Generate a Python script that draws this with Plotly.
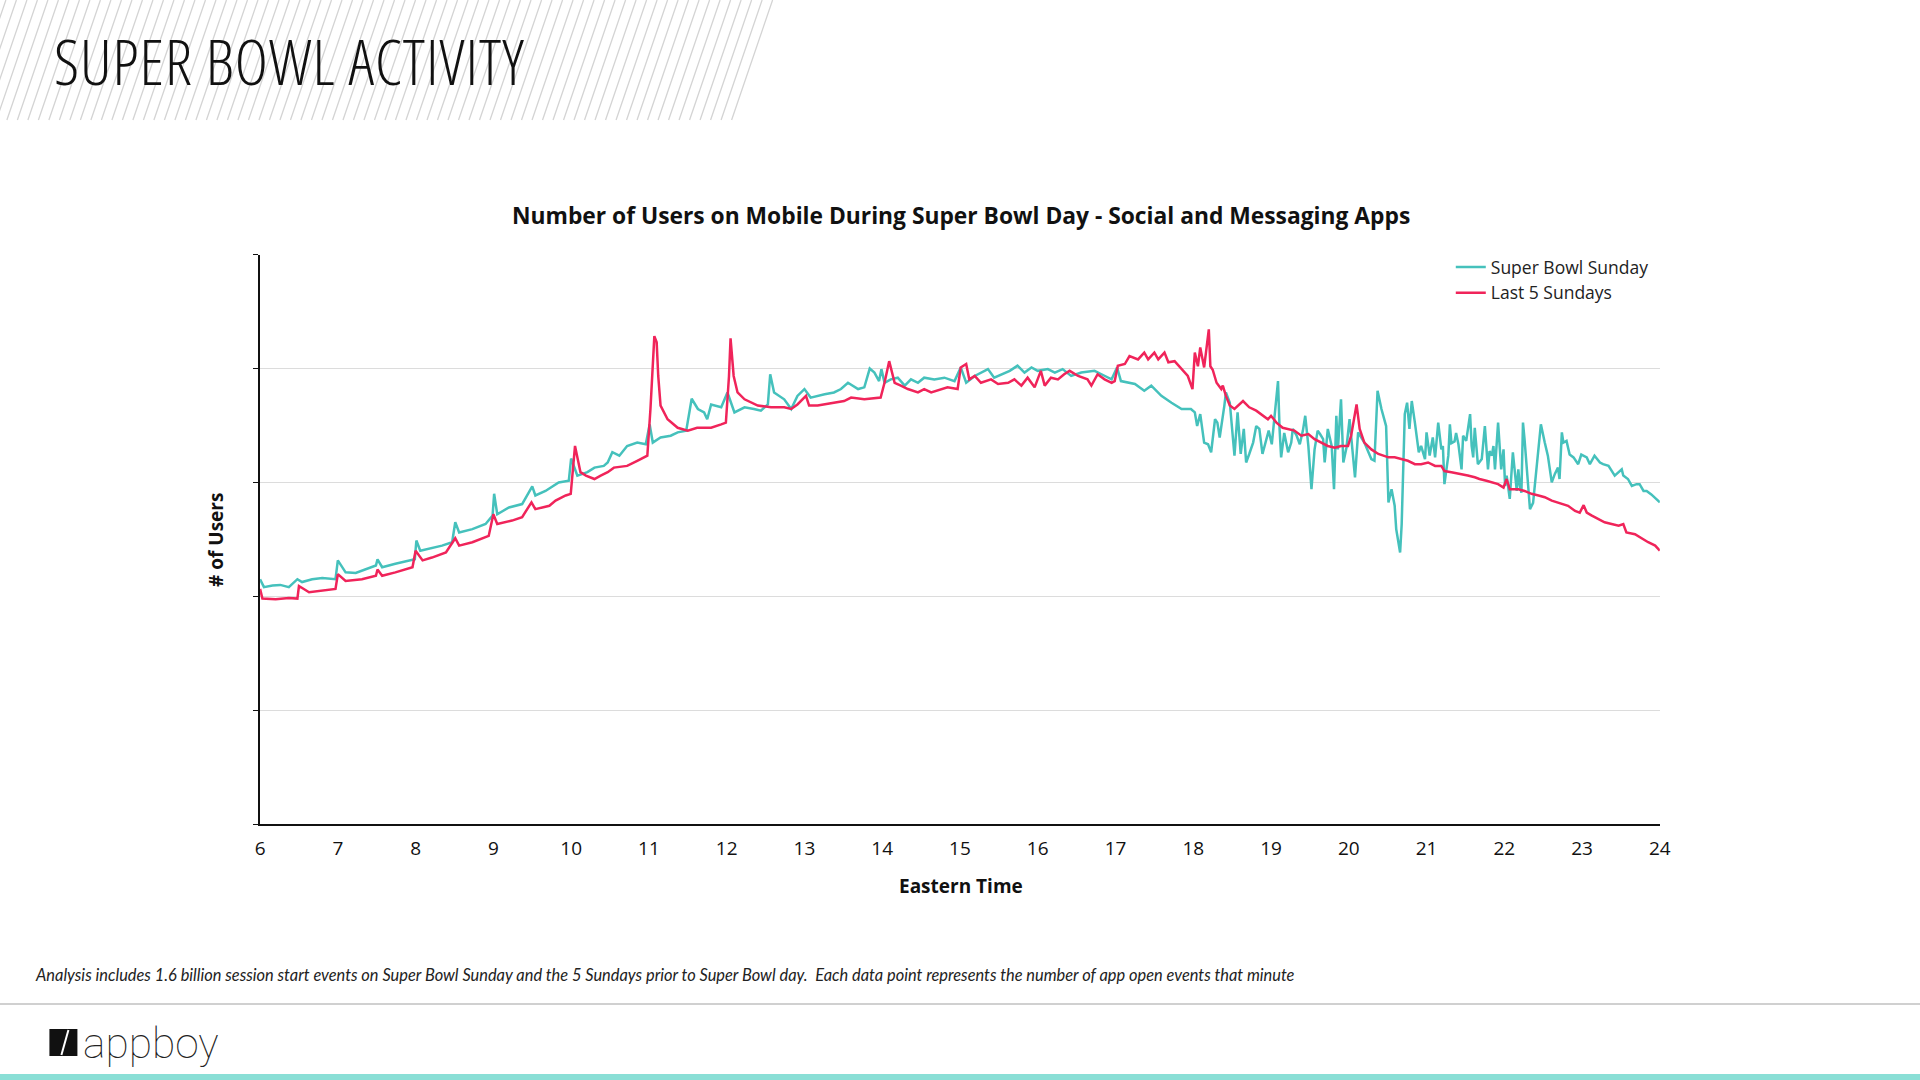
import plotly.graph_objects as go

# ---------------- data (hour of day, Eastern Time) ----------------
sb_hours = [6.00, 6.05, 6.16, 6.26, 6.37, 6.48, 6.54, 6.67, 6.80, 6.97, 7.00, 7.10, 7.23, 7.36, 7.49, 7.51, 7.57, 7.74, 7.91, 7.99,
            8.01, 8.06, 8.34, 8.47, 8.51, 8.56, 8.73, 8.90, 8.99, 9.01, 9.05, 9.20, 9.37, 9.50, 9.54, 9.67, 9.84, 9.97,
            10.00, 10.08, 10.21, 10.30, 10.42, 10.47, 10.53, 10.62, 10.72, 10.85, 10.96, 11.01, 11.05, 11.15, 11.28, 11.37,
            11.48, 11.55, 11.63, 11.71, 11.75, 11.80, 11.93, 12.01, 12.10, 12.23, 12.35, 12.44, 12.53, 12.56, 12.61, 12.74,
            12.83, 12.91, 13.00, 13.08, 13.26, 13.38, 13.47, 13.56, 13.69, 13.77, 13.84, 13.90, 13.96, 13.99, 14.03, 14.11,
            14.20, 14.29, 14.37, 14.46, 14.54, 14.67, 14.80, 14.93, 15.01, 15.08, 15.19, 15.27, 15.36, 15.44, 15.53, 15.64,
            15.74, 15.83, 15.92, 16.00, 16.13, 16.22, 16.32, 16.43, 16.56, 16.73, 16.82, 16.95, 17.02, 17.07, 17.25, 17.37,
            17.46, 17.59, 17.72, 17.85, 17.97, 18.02, 18.05, 18.09, 18.14, 18.19, 18.23, 18.28, 18.31, 18.34, 18.40, 18.42,
            18.47, 18.49, 18.53, 18.57, 18.61, 18.65, 18.68, 18.72, 18.77, 18.81, 18.85, 18.89, 18.94, 18.97, 19.01, 19.05,
            19.09, 19.11, 19.13, 19.17, 19.22, 19.26, 19.28, 19.33, 19.37, 19.41, 19.44, 19.48, 19.52, 19.56, 19.60, 19.63,
            19.67, 19.69, 19.73, 19.78, 19.81, 19.84, 19.86, 19.90, 19.93, 19.97, 20.01, 20.08, 20.12, 20.20, 20.29, 20.33,
            20.37, 20.42, 20.46, 20.48, 20.51, 20.55, 20.59, 20.61, 20.66, 20.68, 20.72, 20.75, 20.78, 20.81, 20.85, 20.90,
            20.93, 20.98, 21.00, 21.04, 21.08, 21.11, 21.15, 21.19, 21.21, 21.23, 21.28, 21.30, 21.32, 21.36, 21.38, 21.41,
            21.45, 21.47, 21.51, 21.56, 21.58, 21.60, 21.62, 21.66, 21.71, 21.75, 21.79, 21.81, 21.84, 21.86, 21.88, 21.92,
            21.96, 21.99, 22.01, 22.03, 22.07, 22.09, 22.11, 22.16, 22.18, 22.20, 22.22, 22.24, 22.26, 22.31, 22.33, 22.37,
            22.41, 22.44, 22.47, 22.52, 22.56, 22.61, 22.65, 22.69, 22.71, 22.74, 22.76, 22.80, 22.84, 22.89, 22.95, 22.99,
            23.06, 23.10, 23.16, 23.23, 23.27, 23.34, 23.38, 23.42, 23.51, 23.53, 23.59, 23.64, 23.70, 23.74, 23.79, 23.83,
            23.89, 23.94, 24.00]
sb_users = [43.0, 41.6, 41.9, 42.0, 41.6, 43.0, 42.5, 43.0, 43.2, 43.0, 46.3, 44.2, 44.1, 44.8, 45.4, 46.5, 45.1, 45.7, 46.3, 46.5,
            49.8, 48.0, 48.9, 49.5, 53.0, 51.2, 51.8, 52.7, 54.2, 58.0, 54.4, 55.6, 56.2, 59.3, 57.7, 58.5, 60.0, 60.3,
            64.2, 61.2, 61.8, 62.6, 62.9, 63.5, 65.3, 64.7, 66.4, 67.0, 66.7, 70.2, 67.0, 67.9, 68.2, 68.8,
            69.1, 74.7, 72.9, 72.3, 71.1, 73.7, 73.2, 75.8, 72.3, 73.2, 72.9, 72.6, 73.7, 79.0, 75.8, 74.6,
            72.9, 75.2, 76.4, 74.9, 75.5, 75.8, 76.4, 77.5, 76.4, 76.7, 80.0, 79.3, 77.8, 79.9, 77.5, 78.1,
            78.4, 77.0, 78.1, 77.5, 78.4, 78.1, 78.4, 77.8, 80.2, 77.5, 78.7, 79.3, 79.9, 78.4, 79.0, 79.6,
            80.5, 79.3, 80.2, 79.6, 79.9, 79.3, 79.9, 78.7, 79.3, 79.6, 79.0, 78.1, 80.2, 77.8, 77.3, 76.1,
            77.0, 75.2, 74.0, 72.9, 72.9, 72.3, 69.9, 72.0, 67.0, 66.7, 65.3, 71.1, 70.5, 67.9, 73.5, 75.8,
            74.0, 70.5, 64.7, 72.3, 65.0, 69.4, 63.5, 65.0, 67.0, 69.9, 69.4, 65.0, 67.9, 69.1, 66.7, 71.7,
            77.8, 69.4, 64.4, 68.7, 65.3, 67.0, 69.4, 68.2, 66.7, 69.1, 71.7, 66.4, 58.8, 65.8, 69.1, 68.5,
            67.6, 63.5, 69.4, 66.4, 58.8, 71.7, 65.8, 74.6, 63.5, 66.1, 71.1, 60.9, 68.8, 67.0, 64.1, 63.8,
            76.1, 72.9, 71.1, 69.9, 56.5, 58.8, 55.9, 51.8, 47.7, 52.6, 72.0, 74.0, 69.4, 74.3, 70.5, 65.3,
            66.4, 64.1, 68.8, 64.7, 67.9, 64.4, 70.5, 65.8, 66.4, 59.7, 64.7, 70.2, 66.9, 67.2, 68.7, 66.7,
            62.3, 68.2, 67.3, 72.0, 66.4, 64.4, 69.6, 63.2, 64.1, 69.9, 62.3, 65.5, 64.7, 66.4, 62.3, 70.5,
            62.3, 65.8, 59.4, 61.2, 57.1, 60.6, 65.3, 58.5, 62.3, 59.4, 58.2, 70.5, 67.6, 58.8, 55.3, 56.4,
            61.7, 65.3, 70.2, 67.0, 64.7, 60.0, 61.5, 62.6, 60.6, 68.8, 67.0, 67.3, 64.9, 64.4, 63.2, 64.9,
            64.4, 63.2, 64.7, 63.5, 63.2, 62.9, 62.0, 61.2, 62.3, 61.2, 60.6, 59.4, 59.7, 59.7, 58.5, 58.5,
            57.9, 57.3, 56.5]

l5_hours = [6.00, 6.03, 6.20, 6.37, 6.48, 6.50, 6.63, 6.80, 6.97, 7.00, 7.10, 7.31, 7.49, 7.51, 7.57, 7.74, 7.96, 8.00, 8.09, 8.21,
            8.39, 8.51, 8.56, 8.73, 8.94, 9.00, 9.05, 9.24, 9.37, 9.49, 9.54, 9.72, 9.80, 9.93, 9.995, 10.05, 10.12, 10.19,
            10.30, 10.38, 10.47, 10.55, 10.72, 10.85, 10.98, 11.02, 11.07, 11.10, 11.12, 11.15, 11.24, 11.37, 11.50, 11.62,
            11.80, 11.93, 11.99, 12.03, 12.05, 12.09, 12.14, 12.23, 12.40, 12.57, 12.74, 12.83, 12.91, 13.02, 13.06, 13.17,
            13.34, 13.51, 13.60, 13.77, 13.98, 14.03, 14.09, 14.16, 14.24, 14.33, 14.46, 14.54, 14.63, 14.71, 14.84, 14.97,
            15.01, 15.08, 15.12, 15.19, 15.27, 15.40, 15.49, 15.62, 15.70, 15.79, 15.87, 15.96, 16.04, 16.09, 16.17, 16.26,
            16.34, 16.41, 16.52, 16.64, 16.69, 16.77, 16.86, 16.95, 16.99, 17.03, 17.12, 17.18, 17.29, 17.37, 17.42, 17.50,
            17.55, 17.63, 17.68, 17.76, 17.85, 17.93, 17.99, 18.02, 18.06, 18.09, 18.14, 18.20, 18.22, 18.25, 18.30, 18.36,
            18.38, 18.42, 18.47, 18.53, 18.64, 18.72, 18.81, 18.90, 18.96, 19.00, 19.07, 19.15, 19.22, 19.30, 19.39, 19.48,
            19.56, 19.65, 19.73, 19.82, 19.90, 19.99, 20.03, 20.10, 20.14, 20.20, 20.29, 20.38, 20.51, 20.59, 20.68, 20.76,
            20.85, 20.93, 21.02, 21.11, 21.19, 21.23, 21.32, 21.45, 21.53, 21.62, 21.68, 21.77, 21.84, 21.92, 21.99, 22.03,
            22.07, 22.18, 22.26, 22.35, 22.44, 22.52, 22.61, 22.74, 22.82, 22.91, 22.97, 23.02, 23.06, 23.12, 23.21, 23.29,
            23.38, 23.47, 23.53, 23.57, 23.68, 23.77, 23.85, 23.94, 24.00]
l5_users = [41.3, 39.6, 39.5, 39.7, 39.6, 41.8, 40.7, 41.0, 41.3, 43.9, 42.7, 43.0, 43.6, 44.7, 43.6, 44.2, 45.1, 48.0, 46.3, 46.8,
            47.7, 50.2, 48.9, 49.5, 50.6, 54.4, 52.7, 53.3, 53.9, 56.5, 55.3, 55.9, 56.8, 57.7, 58.0, 66.4, 61.8, 61.2,
            60.6, 61.2, 61.8, 62.6, 62.9, 63.8, 64.7, 72.9, 85.7, 84.6, 78.7, 73.5, 71.1, 69.6, 69.1, 69.6,
            69.6, 70.2, 70.5, 78.7, 85.3, 78.7, 75.8, 74.6, 73.5, 73.2, 73.2, 72.9, 73.7, 75.2, 73.5, 73.5,
            73.9, 74.3, 74.9, 74.6, 74.9, 77.5, 81.3, 77.5, 77.0, 76.4, 75.8, 76.4, 75.8, 76.1, 76.7, 76.4,
            80.2, 80.8, 78.1, 78.7, 77.5, 78.1, 77.3, 77.5, 78.1, 77.0, 78.4, 76.7, 79.6, 77.0, 78.4, 78.1,
            79.0, 79.6, 78.7, 78.1, 77.0, 79.0, 78.1, 77.5, 77.8, 80.5, 80.8, 82.2, 81.6, 82.8, 81.6, 82.8,
            81.6, 82.8, 81.1, 81.3, 79.9, 78.7, 76.4, 82.8, 80.4, 83.7, 80.2, 86.9, 80.4, 79.8, 77.5, 76.4,
            77.0, 75.2, 73.5, 72.9, 74.3, 73.2, 72.6, 71.7, 71.1, 71.7, 70.5, 69.6, 69.4, 69.1, 68.2, 68.5,
            67.6, 67.0, 66.4, 66.1, 66.4, 66.4, 68.2, 73.7, 69.4, 67.0, 65.8, 65.0, 64.4, 64.4, 64.1, 63.8,
            63.2, 63.2, 63.5, 62.9, 62.9, 62.0, 61.8, 61.5, 61.2, 60.9, 60.6, 60.3, 60.0, 59.7, 59.1, 60.6,
            58.8, 58.8, 58.5, 58.0, 57.7, 57.4, 56.8, 56.2, 55.9, 55.0, 54.7, 56.0, 54.7, 54.2, 53.6, 53.0,
            52.7, 52.4, 52.7, 51.2, 50.9, 50.1, 49.5, 48.9, 48.0]

x_ticks = list(range(6, 25))
x_tick_labels = [str(h) for h in x_ticks]
series_names = ["Super Bowl Sunday", "Last 5 Sundays"]
TEAL = "#45C1BC"
RED = "#F0245A"

W, H = 1920, 1080
# the page is shown with a slight horizontal offset/compression; compensate for it
OFF, SC = 4.6, 0.9914
def px(x):
    return ((x - OFF) / SC) / W
def py(y):
    return (H - y) / H

fig = go.Figure()
fig.add_trace(go.Scatter(x=sb_hours, y=sb_users, mode="lines", name=series_names[0],
                         line=dict(color=TEAL, width=2.5)))
fig.add_trace(go.Scatter(x=l5_hours, y=l5_users, mode="lines", name=series_names[1],
                         line=dict(color=RED, width=2.5)))

# decorative stripes in header
parts = []
xb = 731.0
while xb > -60:
    parts.append(f"M {px(xb):.5f} {py(120):.5f} L {px(xb + 41):.5f} {py(0):.5f}")
    xb -= 10.5
stripe_path = " ".join(parts)

shapes = [
    dict(type="path", xref="paper", yref="paper", path=stripe_path,
         line=dict(color="#d4d4d4", width=1.3), layer="below"),
    dict(type="line", xref="paper", yref="paper", x0=-0.01, x1=1.02, y0=py(1004), y1=py(1004),
         line=dict(color="#d0d0d0", width=2)),
    dict(type="rect", xref="paper", yref="paper", x0=-0.01, x1=1.02, y0=0, y1=py(1074),
         line=dict(width=0), fillcolor="#8ADFD6"),
    dict(type="rect", xref="paper", yref="paper", x0=px(49), x1=px(77), y0=py(1056), y1=py(1029),
         line=dict(width=0), fillcolor="#111111"),
    dict(type="line", xref="paper", yref="paper", x0=px(61), x1=px(68), y0=py(1055), y1=py(1030),
         line=dict(color="white", width=2)),
]

def ann(text, x, y, size, family, xanchor="left", color="#111111", weight="normal", angle=0):
    return dict(text=text, x=px(x), y=py(y), xref="paper", yref="paper", xanchor=xanchor,
                yanchor="middle", showarrow=False, textangle=angle,
                font=dict(family=family, size=size, color=color, weight=weight))

annotations = [
    ann('<span style="font-stretch:86%;font-weight:350;letter-spacing:1px">SUPER BOWL ACTIVITY</span>', 52, 60, 63,
        "Open Sans, sans-serif"),
    ann("<b>Number of Users on Mobile During Super Bowl Day - Social and Messaging Apps</b>",
        960, 215, 22.8, "Open Sans, sans-serif", xanchor="center"),
    ann("<b>Eastern Time</b>", 960, 886, 19, "Open Sans, sans-serif", xanchor="center"),
    ann("<b># of Users</b>", 215.5, 540, 19, "Open Sans, sans-serif", xanchor="center", angle=-90),
    ann("<i>Analysis includes 1.6 billion session start events on Super Bowl Sunday and the 5 Sundays prior to Super Bowl day.  Each data point represents the number of app open events that minute</i>",
        33, 974, 16.4, "Lato, sans-serif", color="#222222"),
    ann("appboy", 81, 1043, 42.5, "Roboto, sans-serif", color="#222222", weight=100),
]

fig.update_layout(
    width=W, height=H, autosize=False,
    margin=dict(l=0, r=0, t=0, b=0),
    paper_bgcolor="white", plot_bgcolor="white",
    font=dict(family="Open Sans, sans-serif", color="#111111"),
    showlegend=True,
    legend=dict(x=px(1450), y=py(249), xanchor="left", yanchor="top",
                bgcolor="rgba(0,0,0,0)", font=dict(size=17.5, color="#222222"),
                tracegroupgap=0, itemwidth=30),
    xaxis=dict(domain=[px(259.6), px(1659)], range=[6, 24], tickmode="array",
               tickvals=x_ticks, ticktext=x_tick_labels, showgrid=False, zeroline=False,
               showline=True, linecolor="#111111", linewidth=1.5, ticks="",
               tickfont=dict(size=19, color="#111111"), ticklabelstandoff=6),
    yaxis=dict(domain=[py(824), py(254.7)], range=[0, 100], dtick=20, showticklabels=False,
               showgrid=True, gridcolor="#dcdcdc", gridwidth=1, zeroline=False,
               showline=True, linecolor="#111111", linewidth=1.5, ticks="outside",
               ticklen=5, tickcolor="#111111", tickwidth=1),
    shapes=shapes,
    annotations=annotations,
)

fig.write_html("out.html", config={"responsive": False})
